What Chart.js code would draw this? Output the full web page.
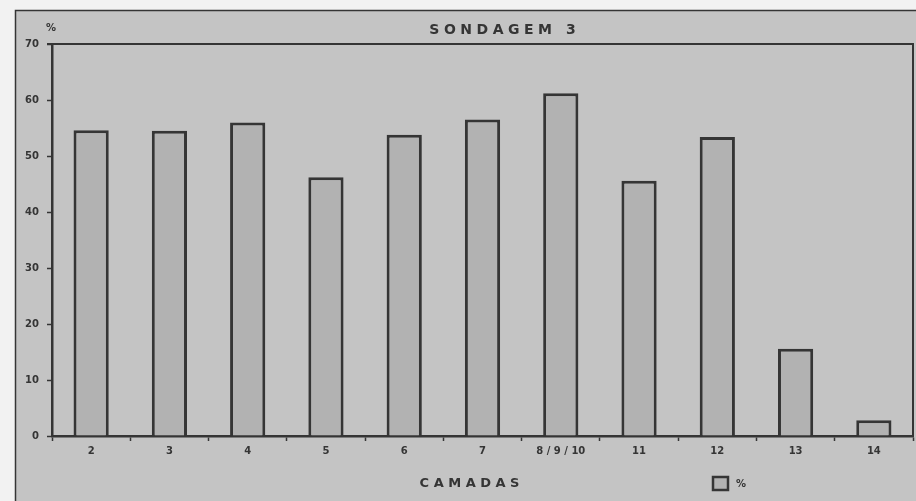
<!DOCTYPE html>
<html>
<head>
<meta charset="utf-8">
<title>Sondagem 3</title>
<script src="https://cdn.jsdelivr.net/npm/chart.js@4"></script>
<style>
  html, body { margin: 0; padding: 0; background: #f2f2f2; }
  #wrap { position: relative; width: 916px; height: 501px; }
</style>
</head>
<body>
<div id="wrap"><canvas id="chart"></canvas></div>
<script>
// Layers (camadas) of the sounding and their percentage values
const categories = ['2', '3', '4', '5', '6', '7', '8 / 9 / 10', '11', '12', '13', '14'];
const percentages = [54.6, 54.5, 56.0, 46.2, 53.8, 56.5, 61.2, 45.6, 53.4, 15.6, 2.8];
const yMin = 0;
const yMax = 70;
const yStep = 10;

const chartTitle = 'SONDAGEM 3';
const xAxisTitle = 'CAMADAS';
const yUnit = '%';
const seriesName = '%';

const INK = '#353535';
const PANEL = '#c4c4c4';
const BAR_FILL = '#b2b2b2';
const FONT = '"DejaVu Sans", sans-serif';

function spacedText(ctx, text, x, y, spacing, align) {
  ctx.save();
  ctx.letterSpacing = spacing + 'px';
  const w = ctx.measureText(text).width - spacing;
  let sx = x;
  if (align === 'center') sx = x - w / 2;
  ctx.textAlign = 'left';
  ctx.fillText(text, sx, y);
  ctx.restore();
}

const framePlugin = {
  id: 'frame',
  beforeDraw(chart) {
    const ctx = chart.ctx;
    const W = chart.width, H = chart.height;
    ctx.save();
    ctx.fillStyle = '#f2f2f2';
    ctx.fillRect(0, 0, W, H);
    ctx.fillStyle = PANEL;
    ctx.fillRect(15, 10, W - 15, H - 10);
    ctx.strokeStyle = INK;
    ctx.lineWidth = 1.5;
    ctx.beginPath();
    ctx.moveTo(15.5, H);
    ctx.lineTo(15.5, 10.5);
    ctx.lineTo(W, 10.5);
    ctx.stroke();
    ctx.restore();
  },
  afterDraw(chart) {
    const ctx = chart.ctx;
    const a = chart.chartArea;
    ctx.save();
    // box around the plot: top and right sides
    ctx.strokeStyle = INK;
    ctx.lineWidth = 2;
    ctx.beginPath();
    ctx.moveTo(a.left - 5, a.top);
    ctx.lineTo(a.right, a.top);
    ctx.lineTo(a.right, a.bottom);
    ctx.stroke();

    ctx.fillStyle = INK;
    ctx.textBaseline = 'middle';

    // title
    ctx.font = 'bold 14px ' + FONT;
    spacedText(ctx, chartTitle, (a.left + a.right) / 2 + 20, 30, 4.5, 'center');

    // unit of the value axis
    ctx.font = 'bold 10px ' + FONT;
    spacedText(ctx, yUnit, a.left - 1, 28, 0, 'center');

    // category axis title
    ctx.font = 'bold 13px ' + FONT;
    spacedText(ctx, xAxisTitle, (a.left + a.right) / 2 - 13, 484, 4.5, 'center');

    // legend
    const lx = 713, ly = 477;
    ctx.fillStyle = BAR_FILL;
    ctx.fillRect(lx, ly, 15, 13);
    ctx.strokeStyle = INK;
    ctx.lineWidth = 2.5;
    ctx.strokeRect(lx, ly, 15, 13);
    ctx.fillStyle = INK;
    ctx.font = 'bold 10px ' + FONT;
    spacedText(ctx, seriesName, lx + 28, ly + 7, 0, 'center');
    ctx.restore();
  }
};

new Chart(document.getElementById('chart'), {
  type: 'bar',
  data: {
    labels: categories,
    datasets: [{
      label: seriesName,
      data: percentages,
      backgroundColor: BAR_FILL,
      borderColor: INK,
      borderWidth: 3,
      borderSkipped: 'bottom',
      barPercentage: 0.45,
      categoryPercentage: 1.0
    }]
  },
  options: {
    responsive: true,
    maintainAspectRatio: false,
    animation: false,
    events: [],
    layout: { padding: { left: 0, top: 44, right: 3, bottom: 0 } },
    plugins: {
      legend: { display: false },
      title: { display: false },
      tooltip: { enabled: false }
    },
    scales: {
      x: {
        afterFit(scale) { scale.height = 65; },
        border: { display: true, color: INK, width: 2.5 },
        grid: {
          display: true,
          drawOnChartArea: false,
          drawTicks: true,
          tickLength: 5,
          tickWidth: 1.5,
          tickColor: INK,
          offset: true
        },
        ticks: {
          color: INK,
          font: { family: FONT, size: 10, weight: 'bold' },
          padding: 4,
          maxRotation: 0,
          autoSkip: false
        }
      },
      y: {
        min: yMin,
        max: yMax,
        afterFit(scale) { scale.width = 52; },
        border: { display: true, color: INK, width: 2.5 },
        grid: {
          display: true,
          drawOnChartArea: false,
          drawTicks: true,
          tickLength: 5,
          tickWidth: 1.5,
          tickColor: INK
        },
        ticks: {
          stepSize: yStep,
          color: INK,
          font: { family: FONT, size: 10, weight: 'bold' },
          padding: 8
        }
      }
    }
  },
  plugins: [framePlugin]
});
</script>
</body>
</html>
